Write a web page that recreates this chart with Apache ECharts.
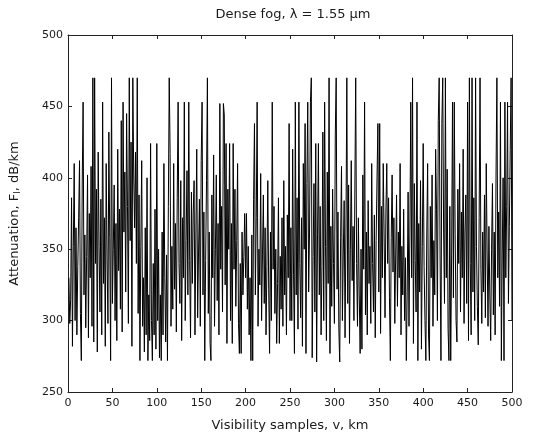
<!DOCTYPE html>
<html>
<head>
<meta charset="utf-8">
<script src="https://cdn.jsdelivr.net/npm/echarts@6/dist/echarts.min.js"></script>
<style>html,body{margin:0;padding:0;background:#fff;}#c{width:533px;height:437px;}</style>
</head>
<body>
<div id="c"></div>
<script>
const titleText = 'Dense fog, \u03bb = 1.55 \u00b5m';
const xName = 'Visibility samples, v, km';
const yTicks = [250, 300, 350, 400, 450, 500];
const xTicks = [0, 50, 100, 150, 200, 250, 300, 350, 400, 450, 500];
const attenuation = [
330,298,315,386,282,352,410,300,365,290,338,372,412,305,272,395,453,318,360,295,345,402,288,375,330,
408,296,470,285,470,340,392,278,418,352,306,385,290,453,326,372,282,410,344,298,432,358,272,470,312,
350,395,300,368,286,420,335,378,308,440,292,453,362,404,320,445,380,298,470,356,425,282,470,402,365,
418,340,470,305,388,272,352,412,296,330,278,365,290,400,272,318,286,424,300,272,340,290,378,280,424,
300,350,274,318,272,362,290,410,330,285,346,272,380,470,417,296,352,308,410,322,368,292,386,453,340,
312,398,286,372,330,453,300,356,405,318,453,342,288,390,326,376,398,290,360,420,302,348,385,296,412,
453,318,376,272,342,398,470,305,362,284,272,388,330,416,296,350,402,314,368,290,452,336,380,306,452,
444,325,424,284,392,350,424,300,368,284,424,336,392,310,356,410,298,277,340,277,362,318,345,375,330,
375,308,352,290,330,272,360,272,385,438,318,372,453,296,350,325,403,300,346,388,312,365,290,338,398,
322,277,362,300,453,336,380,305,350,284,326,386,284,345,308,372,296,398,318,352,290,374,330,438,300,
365,300,420,332,277,453,318,386,294,453,340,302,372,282,410,350,438,277,396,453,320,362,453,470,274,
345,396,306,424,271,360,424,318,380,290,338,432,300,453,352,286,404,326,470,277,366,310,392,340,298,
430,470,322,376,294,271,358,408,300,346,384,288,362,470,312,395,284,350,412,328,366,300,388,470,340,
296,372,318,277,350,280,402,336,453,304,362,290,384,326,352,298,410,340,306,374,288,356,400,438,320,
438,291,380,330,410,360,302,376,410,340,386,316,272,358,402,334,372,298,346,388,310,362,330,410,290,
352,318,378,300,344,272,320,390,296,360,453,330,470,284,396,342,306,453,272,368,320,398,280,352,424,
338,300,272,360,410,290,272,380,330,402,296,356,318,420,378,300,440,470,346,272,438,470,362,312,470,
330,406,294,272,380,272,346,453,316,453,360,300,285,392,340,410,306,376,330,420,298,362,388,312,453,
286,470,340,290,470,320,386,300,470,352,310,283,372,470,336,298,362,320,388,302,410,348,296,366,318,
286,350,396,304,362,290,402,470,330,376,310,453,272,346,400,272,453,330,380,453,312,366,420,470,300
];
const seriesData = attenuation.map((v, i) => [i + 1, v]);

const chart = echarts.init(document.getElementById('c'), null, {renderer: 'canvas'});
const font = 'DejaVu Sans, Arial, sans-serif';
const axisCol = '#222';
const txtCol = '#1a1a1a';
const commonAxis = {
  axisLine: {show: true, onZero: false, lineStyle: {color: axisCol, width: 1}},
  axisTick: {show: true, inside: true, length: 4, lineStyle: {color: axisCol}},
  splitLine: {show: false}
};
chart.setOption({
  animation: false,
  backgroundColor: '#fff',
  title: {
    text: titleText,
    left: 288, top: 3, textAlign: 'center',
    textStyle: {fontFamily: font, fontSize: 13, fontWeight: 'normal', color: txtCol}
  },
  grid: {left: 67, right: 21, top: 35, bottom: 45, containLabel: false},
  xAxis: [
    Object.assign({
      type: 'value', min: xTicks[0], max: xTicks[xTicks.length - 1], interval: 50, position: 'bottom',
      name: xName, nameLocation: 'middle', nameGap: 27,
      nameTextStyle: {fontFamily: font, fontSize: 13, color: txtCol},
      axisLabel: {fontFamily: font, fontSize: 11, color: txtCol, margin: 6}
    }, commonAxis),
    Object.assign({
      type: 'value', min: xTicks[0], max: xTicks[xTicks.length - 1], interval: 50, position: 'top',
      axisLabel: {show: false}
    }, commonAxis)
  ],
  yAxis: [
    Object.assign({
      type: 'value', min: yTicks[0], max: yTicks[yTicks.length - 1], interval: 50, position: 'left',
      name: '{a|Attenuation, F}{s|l}{a|, dB/km}', nameLocation: 'middle', nameGap: 46, nameRotate: 90,
      nameTextStyle: {rich: {
        a: {fontFamily: font, fontSize: 13, color: txtCol},
        s: {fontFamily: font, fontSize: 9, color: txtCol, verticalAlign: 'bottom', padding: [6, 0, 0, 0]}
      }},
      axisLabel: {fontFamily: font, fontSize: 11, color: txtCol, margin: 5}
    }, commonAxis),
    Object.assign({
      type: 'value', min: yTicks[0], max: yTicks[yTicks.length - 1], interval: 50, position: 'right',
      axisLabel: {show: false}
    }, commonAxis)
  ],
  series: [{
    type: 'line', xAxisIndex: 0, yAxisIndex: 0,
    data: seriesData, showSymbol: false, symbol: 'none',
    lineStyle: {color: '#000', width: 1}
  }]
});
</script>
</body>
</html>
